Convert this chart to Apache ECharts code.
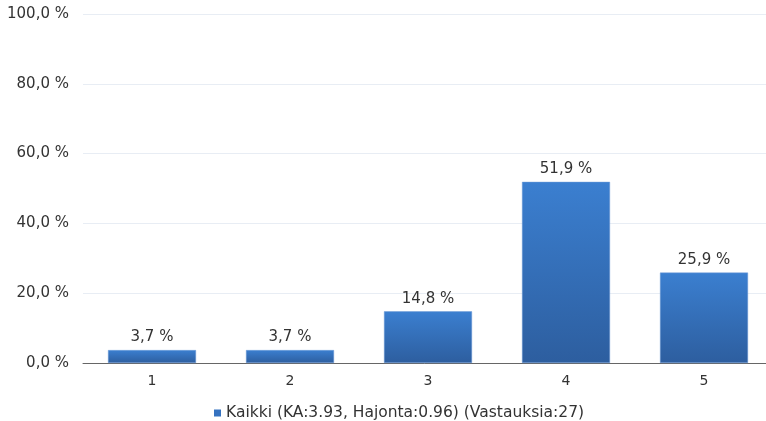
<!DOCTYPE html>
<html><head><meta charset="utf-8">
<script src="https://cdn.jsdelivr.net/npm/echarts@6/dist/echarts.min.js"></script>
<style>html,body{margin:0;padding:0;background:#fff}#c{width:766px;height:421px}</style>
</head><body><div id="c"></div>
<script>
const categories = ['1','2','3','4','5'];
const values = [3.7, 3.7, 14.8, 51.9, 25.9];
const seriesName = 'Kaikki (KA:3.93, Hajonta:0.96) (Vastauksia:27)';
const yTicks = [0, 20, 40, 60, 80, 100];

const fmt = v => v.toFixed(1).replace('.', ',') + ' %';
const FF = 'DejaVu Sans, sans-serif';
const chart = echarts.init(document.getElementById('c'), null, {renderer:'canvas'});
chart.setOption({
  animation:false,
  textStyle:{fontFamily:FF},
  grid:{left:83, top:14, width:690, height:349, outerBoundsMode:'none', containLabel:false},
  legend:{
    top:400, left:209, itemWidth:7, itemHeight:7, itemGap:3,
    icon:'rect',
    itemStyle:{borderWidth:0, color:'#3572c0'},
    textStyle:{fontSize:15.5, color:'#333', fontFamily:FF},
    data:[seriesName]
  },
  xAxis:{
    type:'category', data:categories,
    axisLine:{lineStyle:{color:'#666', width:1}},
    axisTick:{show:false},
    axisLabel:{fontSize:14, color:'#333', margin:11}
  },
  yAxis:{
    type:'value', min:yTicks[0], max:yTicks[yTicks.length-1], interval:20,
    axisLine:{show:false}, axisTick:{show:false},
    splitLine:{lineStyle:{color:'#e8edf4'}},
    axisLabel:{fontSize:15, color:'#333', margin:14, formatter:v=>fmt(v)}
  },
  series:[{
    name:seriesName, type:'bar', data:values, barWidth:88,
    itemStyle:{
      color:new echarts.graphic.LinearGradient(0,0,0,1,[
        {offset:0,color:'#3b7fd0'},{offset:1,color:'#2d5e9f'}
      ]),
      borderColor:'#6f9bd6', borderWidth:0.5
    },
    label:{show:true, position:'top', distance:5, fontSize:15, color:'#333', formatter:p=>fmt(p.value)}
  }]
});
</script></body></html>
